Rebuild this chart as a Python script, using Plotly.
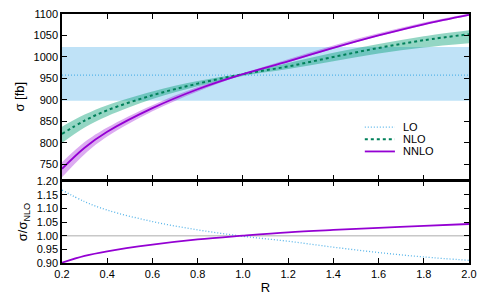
import plotly.graph_objects as go

R = [0.2, 0.3, 0.4, 0.6, 0.8, 1.0, 1.2, 1.4, 1.6, 1.8, 2.0]
LO = [958] * 11
LO_lo = [898] * 11
LO_hi = [1023] * 11
NLO = [821, 852, 876, 911, 938, 960, 978, 1000, 1021, 1039, 1053]
NLO_lo = [800, 836, 862, 902, 932, 956, 972, 990, 1008, 1022, 1032]
NLO_hi = [838, 866, 888, 920, 944, 962, 986, 1010, 1030, 1048, 1062]
NNLO = [740, 789, 826, 881, 925, 960, 990, 1021, 1050, 1076, 1098]
NNLO_lo = [720, 774, 815, 874, 920, 958, 988, 1019, 1048, 1074, 1096]
NNLO_hi = [755, 802, 836, 888, 930, 962, 995, 1027, 1055, 1080, 1101]
RATIO_ONE = [1.0] * 11
LEGEND_LABELS = ["LO", "NLO", "NNLO"]

LO_COL = "#56B4E9"
NLO_COL = "#00805a"
NNLO_COL = "#9400D3"
LO_DASH = "1px,2px"
NLO_DASH = "3px,3px"

fig = go.Figure()

def band(lo, hi, color, xa, ya):
    fig.add_trace(go.Scatter(x=R, y=lo, mode="lines", line=dict(width=0, shape="spline"),
                             showlegend=False, hoverinfo="skip", xaxis=xa, yaxis=ya))
    fig.add_trace(go.Scatter(x=R, y=hi, mode="lines", line=dict(width=0, shape="spline"),
                             fill="tonexty", fillcolor=color, showlegend=False,
                             hoverinfo="skip", xaxis=xa, yaxis=ya))

band(LO_lo, LO_hi, "rgba(86,180,233,0.38)", "x", "y")
band(NLO_lo, NLO_hi, "rgba(0,158,115,0.42)", "x", "y")
band(NNLO_lo, NNLO_hi, "rgba(148,0,211,0.33)", "x", "y")

fig.add_trace(go.Scatter(x=R, y=LO, mode="lines", name="LO",
                         line=dict(color=LO_COL, width=1.3, dash=LO_DASH), xaxis="x", yaxis="y"))
fig.add_trace(go.Scatter(x=R, y=NLO, mode="lines", name="NLO",
                         line=dict(color=NLO_COL, width=2, dash=NLO_DASH, shape="spline"),
                         xaxis="x", yaxis="y"))
fig.add_trace(go.Scatter(x=R, y=NNLO, mode="lines", name="NNLO",
                         line=dict(color=NNLO_COL, width=1.8, shape="spline"), xaxis="x", yaxis="y"))

# ratio panel
fig.add_trace(go.Scatter(x=R, y=RATIO_ONE, mode="lines", line=dict(color="#c8c8c8", width=1.5),
                         xaxis="x2", yaxis="y2"))
fig.add_trace(go.Scatter(x=R, y=[a / b for a, b in zip(LO, NLO)], mode="lines",
                         line=dict(color=LO_COL, width=1.3, dash=LO_DASH, shape="spline"),
                         xaxis="x2", yaxis="y2"))
fig.add_trace(go.Scatter(x=R, y=[a / b for a, b in zip(NNLO, NLO)], mode="lines",
                         line=dict(color=NNLO_COL, width=1.8, shape="spline"),
                         xaxis="x2", yaxis="y2"))

font = dict(family="Liberation Sans, Arial, sans-serif", size=11, color="#000")
axcommon = dict(showline=True, linecolor="#000", linewidth=1.5, mirror="ticks",
                ticks="inside", ticklen=5, tickwidth=1.2, tickcolor="#000",
                showgrid=False, zeroline=False, automargin=False,
                ticklabeloverflow="allow")

# manual gnuplot-style legend
styles = [dict(color=LO_COL, width=1.3, dash=LO_DASH),
          dict(color=NLO_COL, width=2, dash=NLO_DASH),
          dict(color=NNLO_COL, width=1.8)]
ys = [0.546, 0.497, 0.448]
shapes = []
annotations = []
for lab, st, yy in zip(LEGEND_LABELS, styles, ys):
    shapes.append(dict(type="line", xref="paper", yref="paper", x0=0.744, x1=0.818,
                       y0=yy, y1=yy, line=st))
    annotations.append(dict(text=lab, xref="paper", yref="paper", x=0.832, y=yy,
                            xanchor="left", yanchor="middle", showarrow=False,
                            font=dict(size=11)))

split = 82 / 249
fig.update_layout(
    width=500, height=300,
    margin=dict(l=54, r=39, t=6, b=45, pad=0, autoexpand=False),
    paper_bgcolor="white", plot_bgcolor="white",
    font=font,
    showlegend=False,
    shapes=shapes,
    annotations=annotations,
    xaxis=dict(domain=[0, 1], anchor="y", range=[0.2, 2.0], dtick=0.2,
               showticklabels=False, **axcommon),
    yaxis=dict(domain=[split + 1.5 / 249, 1], anchor="x", range=[715, 1100], tick0=750, dtick=50,
               title=dict(text="σ [fb]", standoff=6), **axcommon),
    xaxis2=dict(domain=[0, 1], anchor="y2", range=[0.2, 2.0], dtick=0.2, tickformat=".1f",
                title=dict(text="R", standoff=4), **axcommon),
    yaxis2=dict(domain=[0, split], anchor="x2", range=[0.9, 1.2], dtick=0.05, tickformat=".2f",
                title=dict(text="σ/σ<sub>NLO</sub>", standoff=6), **axcommon),
)

fig.write_html("out.html")
